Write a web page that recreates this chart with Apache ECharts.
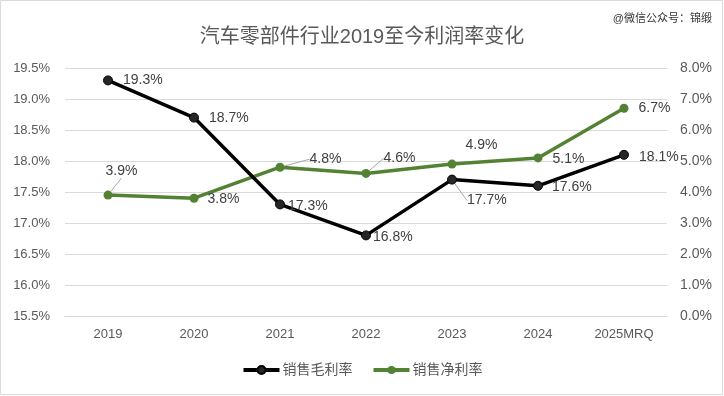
<!DOCTYPE html>
<html><head><meta charset="utf-8">
<script src="https://cdn.jsdelivr.net/npm/echarts@6/dist/echarts.min.js"></script>
<style>html,body{margin:0;padding:0;background:#fff}#c{width:724px;height:396px}</style>
</head><body><div id="c"></div>
<script>
const categories = ['2019','2020','2021','2022','2023','2024','2025MRQ'];
const grossMargin = [19.3, 18.7, 17.3, 16.8, 17.7, 17.6, 18.1];
const netMargin = [3.9, 3.8, 4.8, 4.6, 4.9, 5.1, 6.7];
const seriesNames = ['销售毛利率', '销售净利率'];
const titleText = '汽车零部件行业2019至今利润率变化';
const watermark = '@微信公众号：锦缎';

// label shifts [dx, dy, leaderLine]
const grossShift = [[0,0,false],[0,1,false],[-7,2,false],[-8,2,false],[0,21,true],[-1,1,false],[0,2,false]];
const netShift = [[-17,-24,true],[-1,1,false],[15,-8,true],[3,-15,true],[-1,-19,false],[0,1,false],[0,0,false]];

const font = '"Liberation Sans", "Noto Sans CJK SC", sans-serif';
const chart = echarts.init(document.getElementById('c'));
function layoutFn(shift) {
  return p => ({ dx: shift[p.dataIndex][0], dy: shift[p.dataIndex][1] });
}
function lineShow(vals, shift) {
  return vals.map((v, i) => ({ value: v, labelLine: { show: shift[i][2] } }));
}
chart.setOption({
  animation: false,
  textStyle: { fontFamily: font },
  title: { text: titleText, left: 'center', top: 22,
    textStyle: { fontSize: 20, fontWeight: 'normal', color: '#595959', fontFamily: font } },
  graphic: [
    { type: 'text', right: 12, top: 13, style: { text: watermark, fontSize: 11, fill: '#333', fontFamily: font } },
    { type: 'rect', shape: { x: 0.5, y: 0.5, width: 722, height: 394 }, style: { fill: 'none', stroke: '#d9d9d9', lineWidth: 1 }, silent: true, z: -1 }
  ],
  legend: { bottom: 14, left: 'center', itemWidth: 36, itemHeight: 10, itemGap: 19,
    lineStyle: { width: 4 },
    textStyle: { fontSize: 14, color: '#595959', fontFamily: font, padding: [0,0,0,-2] },
    data: seriesNames },
  grid: { left: 65, right: 57, top: 68, bottom: 80 },
  xAxis: { type: 'category', data: categories,
    axisLine: { lineStyle: { color: '#d9d9d9' } }, axisTick: { show: false },
    axisLabel: { color: '#595959', fontSize: 13, margin: 12 } },
  yAxis: [
    { type: 'value', min: 15.5, max: 19.5, interval: 0.5,
      axisLabel: { color: '#595959', fontSize: 13, formatter: v => v.toFixed(1) + '%' , margin: 15},
      splitLine: { lineStyle: { color: '#d9d9d9' } }, axisLine: { show: false } },
    { type: 'value', min: 0, max: 8, interval: 1, position: 'right',
      axisLabel: { color: '#595959', fontSize: 14, formatter: v => v.toFixed(1) + '%', margin: 13 },
      splitLine: { show: false }, axisLine: { show: false } }
  ],
  series: [
    { name: seriesNames[0], type: 'line', yAxisIndex: 0, data: lineShow(grossMargin, grossShift),
      symbol: 'circle', symbolSize: 9,
      lineStyle: { color: '#000', width: 3.5 }, itemStyle: { color: '#262626', borderColor: '#000', borderWidth: 1 },
      label: { show: true, position: 'right', distance: 10, color: '#404040', fontSize: 14, formatter: p => p.value.toFixed(1) + '%' },
      labelLayout: layoutFn(grossShift),
      labelLine: { lineStyle: { color: '#a6a6a6', width: 1 } },
      z: 3 },
    { name: seriesNames[1], type: 'line', yAxisIndex: 1, data: lineShow(netMargin, netShift),
      symbol: 'circle', symbolSize: 9,
      lineStyle: { color: '#548235', width: 3.5 }, itemStyle: { color: '#548235' },
      label: { show: true, position: 'right', distance: 10, color: '#404040', fontSize: 14, formatter: p => p.value.toFixed(1) + '%' },
      labelLayout: layoutFn(netShift),
      labelLine: { lineStyle: { color: '#a6a6a6', width: 1 } },
      z: 2 }
  ]
});
</script></body></html>
